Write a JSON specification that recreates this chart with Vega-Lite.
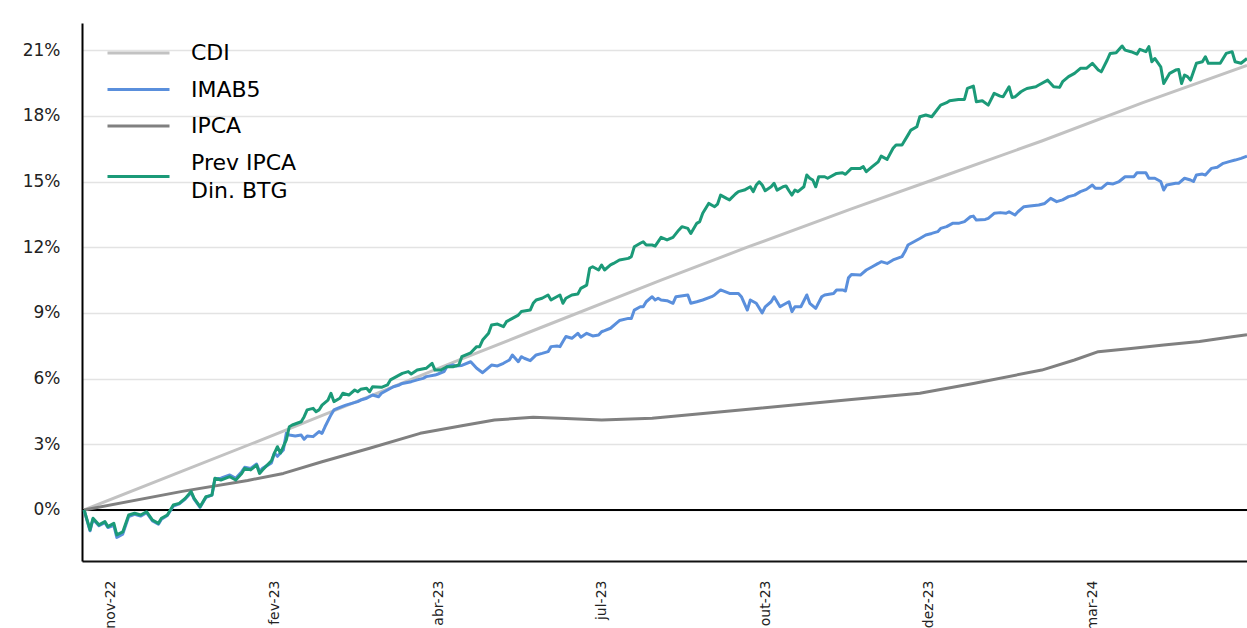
{
  "$schema": "https://vega.github.io/schema/vega-lite/v6.json",
  "autosize": {"type": "none"},
  "padding": {"left": 82, "top": 23, "right": 0, "bottom": 67},
  "width": 1165,
  "height": 538,
  "background": "white",
  "config": {
    "view": {"stroke": null},
    "font": "DejaVu Sans"
  },
  "layer": [
    {
      "data": {"values": [{"zero": 0}]},
      "mark": {"type": "rule", "color": "#000000", "strokeWidth": 2.2},
      "encoding": {"y": {"field": "zero", "type": "quantitative"}}
    },
    {
      "data": {"values": [
        {"d":0,"v":0},{"d":33,"v":1.77},{"d":67,"v":3.6},{"d":97,"v":5.25},{"d":127,"v":6.9},{"d":153,"v":8.3},{"d":194,"v":10.5},{"d":223,"v":12.0},{"d":258,"v":13.75},{"d":290,"v":15.3},{"d":322,"v":16.85},{"d":356,"v":18.6},{"d":391,"v":20.3}
      ]},
      "mark": {"type": "line", "strokeWidth": 3, "clip": true, "strokeJoin": "round"},
      "encoding": {
        "x": {"field": "d", "type": "quantitative"},
        "y": {"field": "v", "type": "quantitative"},
        "color": {"datum": "CDI"}
      }
    },
    {
      "data": {"values": [
        {"d":0,"v":0},{"d":2,"v":-0.95},{"d":3,"v":-0.42},{"d":5,"v":-0.72},{"d":7,"v":-0.58},{"d":8,"v":-0.8},{"d":10,"v":-0.7},{"d":11,"v":-1.25},{"d":13,"v":-1.1},{"d":15,"v":-0.3},{"d":17,"v":-0.2},{"d":19,"v":-0.28},{"d":21,"v":-0.12},{"d":23,"v":-0.5},{"d":25,"v":-0.65},{"d":26,"v":-0.42},{"d":28,"v":-0.25},{"d":30,"v":0.18},{"d":32,"v":0.28},{"d":34,"v":0.5},{"d":36,"v":0.8},{"d":37,"v":0.5},{"d":39,"v":0.12},{"d":41,"v":0.58},{"d":43,"v":0.68},{"d":44,"v":1.42},{"d":46,"v":1.45},{"d":49,"v":1.6},{"d":51,"v":1.45},{"d":53,"v":1.75},{"d":54,"v":1.95},{"d":56,"v":1.9},{"d":58,"v":2.1},{"d":59,"v":1.75},{"d":60,"v":1.9},{"d":63,"v":2.15},{"d":64,"v":2.6},{"d":65,"v":2.45},{"d":67,"v":2.74},{"d":68,"v":3.5},{"d":69,"v":3.42},{"d":71,"v":3.38},{"d":73,"v":3.42},{"d":74,"v":3.23},{"d":75,"v":3.38},{"d":77,"v":3.35},{"d":79,"v":3.58},{"d":80,"v":3.5},{"d":81,"v":3.8},{"d":83,"v":4.34},{"d":84,"v":4.57},{"d":86,"v":4.69},{"d":88,"v":4.79},{"d":90,"v":4.87},{"d":92,"v":4.95},{"d":93,"v":5.02},{"d":95,"v":5.1},{"d":97,"v":5.25},{"d":99,"v":5.17},{"d":100,"v":5.33},{"d":102,"v":5.48},{"d":104,"v":5.63},{"d":106,"v":5.71},{"d":107,"v":5.78},{"d":110,"v":5.86},{"d":112,"v":5.94},{"d":114,"v":6.01},{"d":115,"v":6.09},{"d":118,"v":6.16},{"d":119,"v":6.21},{"d":121,"v":6.32},{"d":122,"v":6.54},{"d":124,"v":6.62},{"d":125,"v":6.58},{"d":127,"v":6.6},{"d":130,"v":6.77},{"d":132,"v":6.47},{"d":134,"v":6.27},{"d":137,"v":6.62},{"d":139,"v":6.58},{"d":141,"v":6.7},{"d":143,"v":6.85},{"d":144,"v":7.08},{"d":146,"v":6.77},{"d":147,"v":7.0},{"d":148,"v":6.93},{"d":150,"v":6.82},{"d":152,"v":7.08},{"d":154,"v":7.15},{"d":156,"v":7.23},{"d":157,"v":7.46},{"d":159,"v":7.49},{"d":160,"v":7.46},{"d":161,"v":7.69},{"d":162,"v":7.92},{"d":164,"v":7.84},{"d":166,"v":8.07},{"d":167,"v":7.89},{"d":169,"v":8.07},{"d":171,"v":7.95},{"d":173,"v":7.99},{"d":174,"v":8.14},{"d":175,"v":8.19},{"d":177,"v":8.3},{"d":179,"v":8.53},{"d":180,"v":8.65},{"d":183,"v":8.75},{"d":184,"v":8.75},{"d":185,"v":9.13},{"d":187,"v":9.28},{"d":188,"v":9.28},{"d":189,"v":9.51},{"d":191,"v":9.74},{"d":192,"v":9.59},{"d":193,"v":9.67},{"d":194,"v":9.59},{"d":196,"v":9.56},{"d":198,"v":9.44},{"d":199,"v":9.74},{"d":203,"v":9.82},{"d":204,"v":9.44},{"d":206,"v":9.51},{"d":208,"v":9.59},{"d":211,"v":9.74},{"d":212,"v":9.82},{"d":214,"v":10.05},{"d":217,"v":9.89},{"d":220,"v":9.89},{"d":221,"v":9.74},{"d":223,"v":9.13},{"d":224,"v":9.59},{"d":226,"v":9.44},{"d":228,"v":9.0},{"d":229,"v":9.28},{"d":231,"v":9.51},{"d":232,"v":9.74},{"d":234,"v":9.28},{"d":235,"v":9.36},{"d":237,"v":9.51},{"d":238,"v":9.06},{"d":239,"v":9.28},{"d":241,"v":9.28},{"d":243,"v":9.82},{"d":244,"v":9.44},{"d":246,"v":9.21},{"d":248,"v":9.74},{"d":249,"v":9.82},{"d":252,"v":9.89},{"d":253,"v":10.05},{"d":255,"v":10.05},{"d":256,"v":10.0},{"d":257,"v":10.6},{"d":258,"v":10.75},{"d":261,"v":10.73},{"d":263,"v":10.96},{"d":265,"v":11.11},{"d":267,"v":11.26},{"d":268,"v":11.34},{"d":270,"v":11.26},{"d":272,"v":11.42},{"d":275,"v":11.57},{"d":276,"v":11.8},{"d":277,"v":12.1},{"d":279,"v":12.25},{"d":281,"v":12.4},{"d":283,"v":12.56},{"d":285,"v":12.63},{"d":287,"v":12.71},{"d":288,"v":12.86},{"d":290,"v":12.94},{"d":292,"v":13.09},{"d":294,"v":13.09},{"d":296,"v":13.17},{"d":298,"v":13.39},{"d":299,"v":13.42},{"d":300,"v":13.24},{"d":303,"v":13.27},{"d":304,"v":13.32},{"d":306,"v":13.55},{"d":308,"v":13.58},{"d":310,"v":13.55},{"d":311,"v":13.62},{"d":313,"v":13.47},{"d":314,"v":13.62},{"d":316,"v":13.85},{"d":318,"v":13.88},{"d":321,"v":13.93},{"d":323,"v":14.0},{"d":325,"v":14.23},{"d":327,"v":14.08},{"d":329,"v":14.16},{"d":331,"v":14.31},{"d":333,"v":14.38},{"d":335,"v":14.54},{"d":337,"v":14.64},{"d":339,"v":14.84},{"d":340,"v":14.69},{"d":342,"v":14.69},{"d":344,"v":14.92},{"d":346,"v":14.89},{"d":348,"v":15.0},{"d":350,"v":15.22},{"d":353,"v":15.22},{"d":354,"v":15.4},{"d":357,"v":15.4},{"d":358,"v":15.15},{"d":360,"v":15.15},{"d":362,"v":15.0},{"d":363,"v":14.61},{"d":364,"v":14.84},{"d":367,"v":14.92},{"d":368,"v":14.92},{"d":370,"v":15.15},{"d":372,"v":15.07},{"d":373,"v":15.0},{"d":374,"v":15.3},{"d":376,"v":15.34},{"d":377,"v":15.3},{"d":379,"v":15.6},{"d":381,"v":15.65},{"d":383,"v":15.83},{"d":385,"v":15.91},{"d":387,"v":15.98},{"d":389,"v":16.06},{"d":391,"v":16.16}
      ]},
      "mark": {"type": "line", "strokeWidth": 3, "clip": true, "strokeJoin": "round"},
      "encoding": {
        "x": {"field": "d", "type": "quantitative"},
        "y": {"field": "v", "type": "quantitative"},
        "color": {"datum": "IMAB5"}
      }
    },
    {
      "data": {"values": [
        {"d":0,"v":0},{"d":33,"v":0.85},{"d":55,"v":1.35},{"d":67,"v":1.67},{"d":80,"v":2.2},{"d":96,"v":2.82},{"d":113,"v":3.5},{"d":127,"v":3.85},{"d":138,"v":4.11},{"d":151,"v":4.23},{"d":160,"v":4.19},{"d":174,"v":4.11},{"d":191,"v":4.19},{"d":227,"v":4.65},{"d":258,"v":5.05},{"d":281,"v":5.33},{"d":299,"v":5.78},{"d":322,"v":6.39},{"d":333,"v":6.85},{"d":341,"v":7.23},{"d":352,"v":7.38},{"d":363,"v":7.53},{"d":375,"v":7.69},{"d":386,"v":7.91},{"d":391,"v":8.0}
      ]},
      "mark": {"type": "line", "strokeWidth": 3, "clip": true, "strokeJoin": "round"},
      "encoding": {
        "x": {"field": "d", "type": "quantitative"},
        "y": {"field": "v", "type": "quantitative"},
        "color": {"datum": "IPCA"}
      }
    },
    {
      "data": {"values": [
        {"d":0,"v":0},{"d":2,"v":-0.91},{"d":3,"v":-0.38},{"d":5,"v":-0.68},{"d":7,"v":-0.53},{"d":8,"v":-0.76},{"d":10,"v":-0.61},{"d":11,"v":-1.14},{"d":13,"v":-1.0},{"d":15,"v":-0.23},{"d":17,"v":-0.15},{"d":19,"v":-0.23},{"d":21,"v":-0.08},{"d":23,"v":-0.46},{"d":25,"v":-0.61},{"d":26,"v":-0.38},{"d":28,"v":-0.23},{"d":30,"v":0.23},{"d":32,"v":0.3},{"d":34,"v":0.53},{"d":36,"v":0.84},{"d":37,"v":0.53},{"d":39,"v":0.15},{"d":41,"v":0.61},{"d":43,"v":0.68},{"d":44,"v":1.45},{"d":46,"v":1.37},{"d":49,"v":1.52},{"d":51,"v":1.37},{"d":53,"v":1.67},{"d":54,"v":1.9},{"d":56,"v":1.83},{"d":58,"v":2.05},{"d":59,"v":1.67},{"d":60,"v":1.83},{"d":63,"v":2.25},{"d":64,"v":2.6},{"d":65,"v":2.89},{"d":66,"v":2.6},{"d":68,"v":3.2},{"d":69,"v":3.8},{"d":70,"v":3.88},{"d":73,"v":4.03},{"d":74,"v":4.26},{"d":75,"v":4.57},{"d":77,"v":4.64},{"d":78,"v":4.49},{"d":79,"v":4.57},{"d":80,"v":4.79},{"d":82,"v":5.02},{"d":83,"v":5.33},{"d":84,"v":4.95},{"d":86,"v":5.1},{"d":87,"v":5.33},{"d":89,"v":5.25},{"d":91,"v":5.48},{"d":92,"v":5.4},{"d":93,"v":5.51},{"d":95,"v":5.56},{"d":96,"v":5.4},{"d":97,"v":5.63},{"d":100,"v":5.6},{"d":102,"v":5.71},{"d":103,"v":5.94},{"d":105,"v":6.09},{"d":107,"v":6.24},{"d":109,"v":6.32},{"d":110,"v":6.21},{"d":112,"v":6.39},{"d":115,"v":6.47},{"d":117,"v":6.7},{"d":118,"v":6.39},{"d":120,"v":6.39},{"d":122,"v":6.54},{"d":124,"v":6.54},{"d":126,"v":6.62},{"d":127,"v":7.0},{"d":129,"v":7.12},{"d":130,"v":7.18},{"d":132,"v":7.46},{"d":133,"v":7.46},{"d":134,"v":7.76},{"d":136,"v":8.07},{"d":137,"v":8.45},{"d":139,"v":8.49},{"d":141,"v":8.37},{"d":142,"v":8.6},{"d":144,"v":8.75},{"d":146,"v":8.9},{"d":147,"v":9.06},{"d":150,"v":9.13},{"d":151,"v":9.44},{"d":152,"v":9.59},{"d":154,"v":9.67},{"d":156,"v":9.82},{"d":157,"v":9.59},{"d":158,"v":9.67},{"d":160,"v":9.82},{"d":161,"v":9.44},{"d":162,"v":9.67},{"d":164,"v":9.82},{"d":166,"v":9.86},{"d":167,"v":10.12},{"d":169,"v":10.27},{"d":170,"v":11.04},{"d":171,"v":11.11},{"d":173,"v":10.96},{"d":174,"v":11.19},{"d":175,"v":10.96},{"d":177,"v":11.19},{"d":178,"v":11.26},{"d":180,"v":11.42},{"d":183,"v":11.49},{"d":184,"v":11.57},{"d":185,"v":12.02},{"d":187,"v":12.18},{"d":188,"v":12.25},{"d":189,"v":12.1},{"d":191,"v":12.1},{"d":192,"v":12.05},{"d":194,"v":12.45},{"d":196,"v":12.33},{"d":198,"v":12.45},{"d":200,"v":12.79},{"d":201,"v":12.94},{"d":203,"v":12.86},{"d":204,"v":12.63},{"d":206,"v":13.09},{"d":207,"v":13.17},{"d":208,"v":13.55},{"d":210,"v":14.0},{"d":212,"v":13.85},{"d":213,"v":13.97},{"d":214,"v":14.38},{"d":216,"v":14.23},{"d":217,"v":14.16},{"d":219,"v":14.43},{"d":220,"v":14.54},{"d":222,"v":14.61},{"d":224,"v":14.76},{"d":225,"v":14.54},{"d":226,"v":14.84},{"d":227,"v":14.99},{"d":228,"v":14.84},{"d":229,"v":14.58},{"d":231,"v":14.76},{"d":232,"v":14.92},{"d":233,"v":14.61},{"d":235,"v":14.76},{"d":236,"v":14.8},{"d":237,"v":14.58},{"d":238,"v":14.38},{"d":239,"v":14.61},{"d":240,"v":14.54},{"d":242,"v":14.76},{"d":243,"v":15.3},{"d":244,"v":15.15},{"d":245,"v":15.07},{"d":246,"v":14.76},{"d":247,"v":15.22},{"d":249,"v":15.22},{"d":250,"v":15.15},{"d":253,"v":15.37},{"d":255,"v":15.4},{"d":256,"v":15.33},{"d":258,"v":15.6},{"d":261,"v":15.6},{"d":262,"v":15.68},{"d":263,"v":15.45},{"d":265,"v":15.68},{"d":267,"v":15.9},{"d":268,"v":16.16},{"d":270,"v":16.01},{"d":272,"v":16.52},{"d":273,"v":16.67},{"d":275,"v":16.67},{"d":277,"v":17.12},{"d":278,"v":17.35},{"d":280,"v":17.5},{"d":281,"v":17.96},{"d":283,"v":18.04},{"d":285,"v":17.96},{"d":288,"v":18.49},{"d":290,"v":18.6},{"d":291,"v":18.69},{"d":294,"v":18.75},{"d":296,"v":18.75},{"d":297,"v":19.25},{"d":299,"v":19.36},{"d":300,"v":18.64},{"d":302,"v":18.69},{"d":304,"v":18.49},{"d":306,"v":19.03},{"d":308,"v":18.9},{"d":309,"v":18.87},{"d":311,"v":19.33},{"d":312,"v":18.84},{"d":313,"v":18.87},{"d":315,"v":19.1},{"d":316,"v":19.18},{"d":317,"v":19.25},{"d":320,"v":19.33},{"d":321,"v":19.41},{"d":324,"v":19.63},{"d":326,"v":19.33},{"d":328,"v":19.3},{"d":329,"v":19.56},{"d":331,"v":19.79},{"d":333,"v":19.94},{"d":335,"v":20.17},{"d":337,"v":20.17},{"d":339,"v":20.4},{"d":341,"v":20.09},{"d":342,"v":20.01},{"d":344,"v":20.55},{"d":345,"v":20.85},{"d":347,"v":20.88},{"d":349,"v":21.19},{"d":350,"v":21.0},{"d":352,"v":20.93},{"d":354,"v":20.82},{"d":355,"v":21.04},{"d":357,"v":20.93},{"d":358,"v":21.16},{"d":359,"v":20.47},{"d":360,"v":20.62},{"d":362,"v":20.24},{"d":363,"v":19.48},{"d":365,"v":19.94},{"d":367,"v":20.09},{"d":368,"v":20.12},{"d":369,"v":19.48},{"d":370,"v":19.86},{"d":371,"v":19.79},{"d":372,"v":19.63},{"d":374,"v":20.4},{"d":376,"v":20.47},{"d":377,"v":20.7},{"d":378,"v":20.4},{"d":381,"v":20.4},{"d":382,"v":20.4},{"d":384,"v":20.85},{"d":386,"v":20.93},{"d":387,"v":20.47},{"d":389,"v":20.4},{"d":391,"v":20.62}
      ]},
      "mark": {"type": "line", "strokeWidth": 3, "clip": true, "strokeJoin": "round"},
      "encoding": {
        "x": {
          "field": "d",
          "type": "quantitative",
          "scale": {"domain": [-0.7, 391], "nice": false, "zero": false},
          "axis": {
            "title": null,
            "values": [9, 64, 119, 174, 229, 284, 339],
            "labelExpr": "datum.value == 9 ? 'nov-22' : datum.value == 64 ? 'fev-23' : datum.value == 119 ? 'abr-23' : datum.value == 174 ? 'jul-23' : datum.value == 229 ? 'out-23' : datum.value == 284 ? 'dez-23' : 'mar-24'",
            "labelAngle": 270,
            "labelFontSize": 14,
            "labelFont": "DejaVu Sans",
            "labelColor": "#222222",
            "labelPadding": 19,
            "ticks": false,
            "grid": false,
            "domainColor": "#111111",
            "domainWidth": 2,
            "labelOverlap": false,
            "labelBound": false,
            "labelFlush": false
          }
        },
        "y": {
          "field": "v",
          "type": "quantitative",
          "scale": {"domain": [-2.33, 22.24], "nice": false, "zero": false},
          "axis": {
            "title": null,
            "values": [0, 3, 6, 9, 12, 15, 18, 21],
            "labelExpr": "datum.value + '%'",
            "labelFontSize": 17,
            "labelFont": "DejaVu Sans",
            "labelColor": "#222222",
            "labelPadding": 22,
            "ticks": false,
            "grid": true,
            "gridColor": "#e3e3e3",
            "gridWidth": 1.6,
            "domainColor": "#000000",
            "domainWidth": 2
          }
        },
        "color": {
          "datum": "Prev IPCA Din. BTG",
          "scale": {
            "domain": ["CDI", "IMAB5", "IPCA", "Prev IPCA Din. BTG"],
            "range": ["#c2c2c2", "#5a8fdc", "#808080", "#1b9a78"]
          },
          "legend": {
            "title": null,
            "orient": "none",
            "legendX": 24,
            "legendY": 19,
            "padding": 0,
            "symbolType": "stroke",
            "symbolSize": 3844,
            "symbolStrokeWidth": 3,
            "clipHeight": 22,
            "rowPadding": 14.5,
            "labelOffset": 20,
            "labelFont": "DejaVu Sans",
            "labelFontSize": 22,
            "labelColor": "#000000",
            "labelLimit": 400,
            "labelExpr": "datum.label == 'Prev IPCA Din. BTG' ? ['Prev IPCA', 'Din. BTG'] : datum.label",
            "encode": {
              "labels": {
                "update": {
                  "lineHeight": {"value": 28},
                  "dy": {"signal": "datum.value == 'Prev IPCA Din. BTG' ? -14 : 0"}
                }
              }
            }
          }
        }
      }
    },
    {
      "mark": {"type": "rule", "color": "#111111", "strokeWidth": 1.5},
      "encoding": {"y": {"datum": 22.24}}
    }
  ]
}
